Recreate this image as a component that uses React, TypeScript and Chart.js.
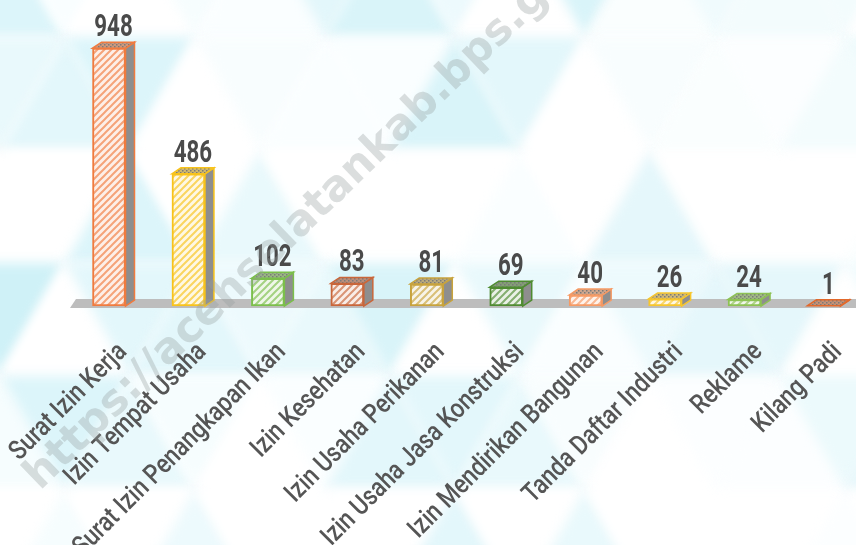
import React, { useEffect, useRef } from "react";
import { Chart, registerables } from "chart.js";

Chart.register(...registerables);

// ---- data ----
const categories = [
  "Surat Izin Kerja",
  "Izin Tempat Usaha",
  "Surat Izin Penangkapan Ikan",
  "Izin Kesehatan",
  "Izin Usaha Perikanan",
  "Izin Usaha Jasa Konstruksi",
  "Izin Mendirikan Bangunan",
  "Tanda Daftar Industri",
  "Reklame",
  "Kilang Padi",
];
const values = [948, 486, 102, 83, 81, 69, 40, 26, 24, 1];
const barColors = [
  "#F07B3F",
  "#F8C31B",
  "#7BBF4B",
  "#C9663A",
  "#C8A33C",
  "#4F8B31",
  "#F69A64",
  "#F7C62B",
  "#8DC253",
  "#E2692B",
];
const watermarkText = "https://acehselatankab.bps.go.id";

const FONT = "Roboto, 'DejaVu Sans', sans-serif";
const DX = 9;
const DY = 6;

function hexToRgb(hex: string) {
  const h = hex.replace("#", "");
  return [parseInt(h.slice(0, 2), 16), parseInt(h.slice(2, 4), 16), parseInt(h.slice(4, 6), 16)];
}
function mix(hex: string, t: number, target = [255, 255, 255]) {
  const c = hexToRgb(hex);
  const r = c.map((v, i) => Math.round(v + (target[i] - v) * t));
  return `rgb(${r[0]},${r[1]},${r[2]})`;
}

function stripePattern(ctx: CanvasRenderingContext2D, color: string) {
  const s = 7;
  const cv = document.createElement("canvas");
  cv.width = s;
  cv.height = s;
  const c = cv.getContext("2d")!;
  c.fillStyle = mix(color, 0.88);
  c.fillRect(0, 0, s, s);
  c.strokeStyle = mix(color, 0.3);
  c.lineWidth = 2;
  c.beginPath();
  c.moveTo(0, s);
  c.lineTo(s, 0);
  c.moveTo(-s / 2, s / 2);
  c.lineTo(s / 2, -s / 2);
  c.moveTo(s / 2, s * 1.5);
  c.lineTo(s * 1.5, s / 2);
  c.stroke();
  return ctx.createPattern(cv, "repeat")!;
}

function dotPattern(ctx: CanvasRenderingContext2D, color: string) {
  const s = 4;
  const cv = document.createElement("canvas");
  cv.width = s;
  cv.height = s;
  const c = cv.getContext("2d")!;
  c.fillStyle = mix(color, 0.55, [175, 175, 175]);
  c.fillRect(0, 0, s, s);
  c.fillStyle = "#7a7a7a";
  c.fillRect(0, 0, 1.5, 1.5);
  c.fillRect(2, 2, 1.5, 1.5);
  return ctx.createPattern(cv, "repeat")!;
}

const backgroundPlugin = {
  id: "bgTriangles",
  beforeDraw(chart: any) {
    const { ctx, width, height } = chart;
    ctx.save();
    ctx.fillStyle = "#FFFFFF";
    ctx.fillRect(0, 0, width, height);
    ctx.filter = "blur(6px)";
    const shades = ["#FFFFFF", "#E9F9FC", "#DCF5FA", "#FFFFFF", "#CFF1F7", "#F6FDFE", "#FFFFFF", "#E3F7FB", "#F9FEFF"];
    const rowH = 113;
    const tw = 130;
    for (let r = -1; r < 6; r++) {
      const y0 = 37 + r * rowH;
      const off = (r & 1) ? tw / 2 : 0;
      for (let k = -2; k < 9; k++) {
        const xa = k * tw + off;
        ctx.globalAlpha = xa < 120 ? 1 : xa > 520 ? 0.55 : 0.8;
        ctx.fillStyle = shades[Math.abs(r * 4 + k * 5 + 7) % shades.length];
        ctx.beginPath();
        ctx.moveTo(xa, y0 + rowH);
        ctx.lineTo(xa + tw / 2, y0);
        ctx.lineTo(xa + tw, y0 + rowH);
        ctx.closePath();
        ctx.fill();
        ctx.fillStyle = shades[Math.abs(r * 7 + k * 3 + 2) % shades.length];
        ctx.beginPath();
        ctx.moveTo(xa + tw / 2, y0);
        ctx.lineTo(xa + tw * 1.5, y0);
        ctx.lineTo(xa + tw, y0 + rowH);
        ctx.closePath();
        ctx.fill();
      }
    }
    ctx.filter = "none";
    ctx.globalAlpha = 1;
    ctx.restore();
  },
};

const floorPlugin = {
  id: "floor",
  beforeDatasetsDraw(chart: any) {
    const { ctx, chartArea, width } = chart;
    const y0 = chart.scales.y.getPixelForValue(0);
    ctx.save();
    ctx.fillStyle = "#BDBDBD";
    ctx.beginPath();
    ctx.moveTo(chartArea.left - 39, y0 + 2);
    ctx.lineTo(chartArea.left - 33, y0 - 7);
    ctx.lineTo(width, y0 - 7);
    ctx.lineTo(width, y0 + 2);
    ctx.closePath();
    ctx.fill();
    ctx.restore();
  },
};

const boxPlugin = {
  id: "box3d",
  afterDatasetsDraw(chart: any) {
    const { ctx } = chart;
    const meta = chart.getDatasetMeta(0);
    const ds = chart.data.datasets[0];
    ctx.save();
    meta.data.forEach((el: any, i: number) => {
      const color = barColors[i];
      const left = el.x - el.width / 2;
      const right = el.x + el.width / 2;
      const top = el.y;
      const base = el.base;
      // side face
      ctx.beginPath();
      ctx.moveTo(right, top);
      ctx.lineTo(right + DX, top - DY);
      ctx.lineTo(right + DX, base - DY);
      ctx.lineTo(right, base);
      ctx.closePath();
      ctx.fillStyle = "#8E8E8E";
      ctx.fill();
      ctx.lineWidth = 1.5;
      ctx.strokeStyle = color;
      ctx.stroke();
      // top face
      ctx.beginPath();
      ctx.moveTo(left, top);
      ctx.lineTo(left + DX, top - DY);
      ctx.lineTo(right + DX, top - DY);
      ctx.lineTo(right, top);
      ctx.closePath();
      ctx.fillStyle = ds._dots[i];
      ctx.fill();
      ctx.lineWidth = 1.5;
      ctx.strokeStyle = color;
      ctx.stroke();
      // value label (condensed)
      ctx.save();
      ctx.translate(el.x + DX / 2, top - DY - 6);
      ctx.scale(0.72, 1);
      ctx.fillStyle = "#4A4A4A";
      ctx.font = `bold 31px ${FONT}`;
      ctx.textAlign = "center";
      ctx.textBaseline = "alphabetic";
      ctx.fillText(String(values[i]), 0, 0);
      ctx.restore();
    });
    ctx.restore();
  },
};

const labelPlugin = {
  id: "rotLabels",
  afterDraw(chart: any) {
    const { ctx } = chart;
    const xs = chart.scales.x;
    const y0 = chart.scales.y.getPixelForValue(0);
    ctx.save();
    ctx.fillStyle = "#555555";
    ctx.font = `500 27px ${FONT}`;
    ctx.textAlign = "right";
    ctx.textBaseline = "middle";
    categories.forEach((lab, i) => {
      const x = xs.getPixelForTick(i);
      ctx.save();
      ctx.translate(x + 14, y0 + 42);
      ctx.rotate(-Math.PI / 4);
      ctx.scale(0.84, 1);
      ctx.fillText(lab, 0, 0);
      ctx.restore();
    });
    ctx.restore();
  },
};

const watermarkPlugin = {
  id: "watermark",
  afterDraw(chart: any) {
    const { ctx } = chart;
    ctx.save();
    ctx.translate(40, 491);
    ctx.rotate((-44 * Math.PI) / 180);
    ctx.font = 'bold 43px "DejaVu Sans", sans-serif';
    ctx.fillStyle = "rgba(150,158,158,0.34)";
    ctx.textBaseline = "alphabetic";
    ctx.fillText(watermarkText, 0, 0);
    ctx.restore();
  },
};

export default function App() {
  const ref = useRef<HTMLCanvasElement | null>(null);
  useEffect(() => {
    document.body.style.margin = "0";
    document.body.style.overflow = "hidden";
    const canvas = ref.current!;
    const ctx = canvas.getContext("2d")!;
    const stripes = barColors.map((c) => stripePattern(ctx, c));
    const dots = barColors.map((c) => dotPattern(ctx, c));
    const dataset: any = {
      data: values,
      backgroundColor: stripes,
      borderColor: barColors,
      borderWidth: 2,
      borderSkipped: false,
      barThickness: 33,
      clip: false,
    };
    dataset._dots = dots;
    const chart = new Chart(canvas, {
      type: "bar",
      data: { labels: categories, datasets: [dataset] },
      options: {
        animation: false,
        responsive: false,
        devicePixelRatio: 1,
        layout: { padding: { top: 34, left: 109, right: 32, bottom: 0 } },
        plugins: { legend: { display: false }, tooltip: { enabled: false } },
        scales: {
          x: {
            offset: false,
            grid: { display: false, drawTicks: false },
            border: { display: false },
            ticks: { display: false },
            afterFit(scale: any) {
              scale.height = 239;
            },
          },
          y: { display: false, min: 0, max: 1000 },
        },
      },
      plugins: [backgroundPlugin, floorPlugin, boxPlugin, labelPlugin, watermarkPlugin],
    } as any);
    return () => chart.destroy();
  }, []);
  return <canvas ref={ref} width={856} height={545} style={{ display: "block" }} />;
}
